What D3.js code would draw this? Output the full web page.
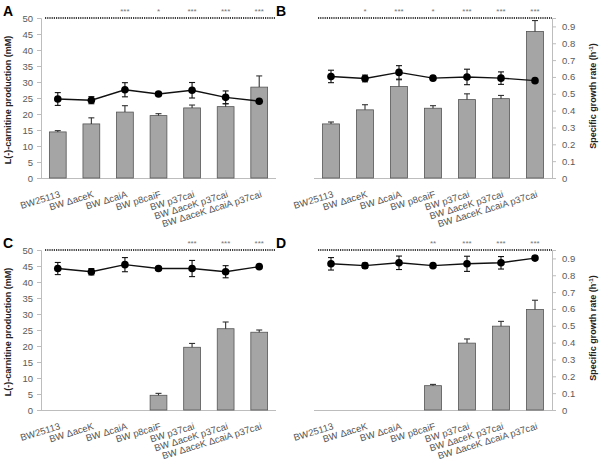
<!DOCTYPE html>
<html><head><meta charset="utf-8">
<script src="https://cdn.jsdelivr.net/npm/d3@7"></script>
<style>body{margin:0;background:#fff}svg{display:block;font-family:"Liberation Sans",Arial,sans-serif}</style>
</head><body>
<script>
const categories = ["BW25113","BW \u0394aceK","BW \u0394caiA","BW p8caiF","BW p37cai","BW \u0394aceK p37cai","BW \u0394aceK \u0394caiA p37cai"];
const carnitineTicks = [0,5,10,15,20,25,30,35,40,45,50];
const growthTicks = [0,0.1,0.2,0.3,0.4,0.5,0.6,0.7,0.8,0.9];

// Panel A
const carnitineA = [14.4,16.9,20.6,19.5,21.9,22.3,28.4];
const carnitineErrA = [0.4,1.9,2.0,0.6,0.9,0.9,3.5];
const growthA = [0.469,0.462,0.524,0.499,0.521,0.479,0.456];
const growthErrA = [0.038,0.021,0.042,0.010,0.046,0.038,0];
const starsA = ["","","***","*","***","***","***"];
// Panel B
const carnitineB = [16.9,21.3,28.6,21.8,24.5,24.8,45.8];
const carnitineErrB = [0.6,1.6,2.1,0.8,1.8,1.0,3.4];
const growthB = [0.603,0.591,0.627,0.593,0.600,0.593,0.578];
const growthErrB = [0.037,0.020,0.040,0.010,0.046,0.037,0];
const starsB = ["","*","***","*","***","***","***"];
// Panel C
const carnitineC = [0,0,0,4.6,19.6,25.4,24.3];
const carnitineErrC = [0,0,0,0.6,1.2,2.1,0.7];
const growthC = [0.840,0.821,0.863,0.840,0.840,0.821,0.851];
const growthErrC = [0.036,0.019,0.042,0.010,0.048,0.036,0];
const starsC = ["","","","","***","***","***"];
// Panel D
const carnitineD = [0,0,0,7.6,20.9,26.2,31.4];
const carnitineErrD = [0,0,0,0.4,1.3,1.5,2.9];
const growthD = [0.868,0.857,0.874,0.857,0.868,0.874,0.902];
const growthErrD = [0.037,0.015,0.040,0.010,0.045,0.037,0];
const starsD = ["","","","**","***","***","***"];

const W = 600, H = 461;
const svg = d3.select("body").append("svg").attr("width", W).attr("height", H);

function panel(o) {
  const g = svg.append("g");
  const x = d3.scaleBand().domain(categories).range([o.x0, o.x1]).paddingInner(0.5).paddingOuter(0.25);
  const yL = d3.scaleLinear().domain([0, 50]).range([o.y1, o.y0]);
  const yR = d3.scaleLinear().domain([0, 0.95]).range([o.y1, o.y0]);
  const axisCol = "#bdbdbd", textCol = "#5a5a5a";

  g.append("text").attr("x", o.x0 - 38).attr("y", o.y0 - 2).attr("font-size", 14).attr("font-weight", "bold").attr("fill", "#000").text(o.letter);

  g.append("line").attr("x1", o.x0 + 4).attr("x2", o.x1).attr("y1", o.y0).attr("y2", o.y0)
    .attr("stroke", "#000").attr("stroke-width", 1.3).attr("stroke-dasharray", "1.2,1");

  g.append("line").attr("x1", o.x0).attr("x2", o.x1).attr("y1", o.y1 + 0.5).attr("y2", o.y1 + 0.5).attr("stroke", axisCol);

  if (o.left) {
    const ax = g.append("g").attr("transform", `translate(${o.x0},0)`)
      .call(d3.axisLeft(yL).tickValues(carnitineTicks).tickSize(4).tickPadding(4).tickFormat(d3.format("d")));
    ax.select(".domain").attr("stroke", axisCol);
    ax.selectAll(".tick line").attr("stroke", axisCol);
    ax.selectAll(".tick text").attr("fill", textCol).attr("font-size", 9.5).attr("font-family", "Liberation Sans, Arial, sans-serif");
    g.append("text").attr("transform", `translate(${o.x0 - 30},${(o.y0 + o.y1) / 2 + 2}) rotate(-90)`)
      .attr("text-anchor", "middle").attr("font-size", 9).attr("font-weight", "bold").attr("fill", "#222")
      .text("L(-)-carnitine production (mM)");
  } else {
    const ax = g.append("g").attr("transform", `translate(${o.x1},0)`)
      .call(d3.axisRight(yR).tickValues(growthTicks).tickSize(4).tickPadding(6).tickFormat(d => d === 0 ? "0" : d3.format(".1f")(d)));
    ax.select(".domain").attr("stroke", axisCol);
    ax.selectAll(".tick line").attr("stroke", axisCol);
    ax.selectAll(".tick text").attr("fill", textCol).attr("font-size", 9.5).attr("font-family", "Liberation Sans, Arial, sans-serif");
    const t = g.append("text").attr("transform", `translate(${o.x1 + 44},${(o.y0 + o.y1) / 2 - 2}) rotate(-90)`)
      .attr("text-anchor", "middle").attr("font-size", 9).attr("font-weight", "bold").attr("fill", "#222");
    t.append("tspan").text("Specific growth rate (h");
    t.append("tspan").attr("font-size", 6).attr("dy", -3).text("-1");
    t.append("tspan").attr("dy", 3).text(")");
  }

  const bw = x.bandwidth();
  const cx = c => x(c) + bw / 2;
  g.selectAll("rect.bar").data(categories).join("rect").attr("class", "bar")
    .attr("x", c => x(c)).attr("width", bw)
    .attr("y", (c, i) => yL(o.bars[i])).attr("height", (c, i) => yL(0) - yL(o.bars[i]))
    .attr("fill", "#a5a5a5").attr("stroke", "#555").attr("stroke-width", 0.8)
    .attr("display", (c, i) => o.bars[i] > 0 ? null : "none");
  categories.forEach((c, i) => {
    if (!(o.barErr[i] > 0)) return;
    const top = yL(o.bars[i] + o.barErr[i]);
    g.append("line").attr("x1", cx(c)).attr("x2", cx(c)).attr("y1", yL(o.bars[i])).attr("y2", top).attr("stroke", "#333").attr("stroke-width", 1.1);
    g.append("line").attr("x1", cx(c) - 3).attr("x2", cx(c) + 3).attr("y1", top).attr("y2", top).attr("stroke", "#333").attr("stroke-width", 1.1);
  });

  g.append("path").datum(categories)
    .attr("d", d3.line().x(c => cx(c)).y((c, i) => yR(o.growth[i])))
    .attr("fill", "none").attr("stroke", "#111").attr("stroke-width", 1.4);
  categories.forEach((c, i) => {
    const e = o.growthErr[i];
    if (!(e > 0)) return;
    const a = yR(o.growth[i] + e), b = yR(o.growth[i] - e);
    g.append("line").attr("x1", cx(c)).attr("x2", cx(c)).attr("y1", a).attr("y2", b).attr("stroke", "#111").attr("stroke-width", 1.1);
    [a, b].forEach(yy => g.append("line").attr("x1", cx(c) - 3).attr("x2", cx(c) + 3).attr("y1", yy).attr("y2", yy).attr("stroke", "#111").attr("stroke-width", 1.1));
  });
  g.selectAll("circle.pt").data(categories).join("circle").attr("class", "pt")
    .attr("cx", c => cx(c)).attr("cy", (c, i) => yR(o.growth[i])).attr("r", 3.8).attr("fill", "#000");

  g.selectAll("text.star").data(categories).join("text").attr("class", "star")
    .attr("x", c => cx(c)).attr("y", o.y0 - 4).attr("text-anchor", "middle")
    .attr("font-size", 8).attr("fill", "#777").text((c, i) => o.stars[i]);

  g.selectAll("text.xl").data(categories).join("text").attr("class", "xl")
    .attr("transform", c => `translate(${cx(c) + 3},${o.y1 + 19}) rotate(-17)`)
    .attr("text-anchor", "end").attr("font-size", 9.5).attr("fill", "#555").text(c => c);
}

panel({letter: "A", left: true, x0: 41, x1: 276, y0: 18, y1: 178, bars: carnitineA, barErr: carnitineErrA, growth: growthA, growthErr: growthErrA, stars: starsA});
panel({letter: "B", left: false, x0: 314, x1: 552, y0: 18, y1: 178, bars: carnitineB, barErr: carnitineErrB, growth: growthB, growthErr: growthErrB, stars: starsB});
panel({letter: "C", left: true, x0: 41, x1: 276, y0: 250, y1: 410, bars: carnitineC, barErr: carnitineErrC, growth: growthC, growthErr: growthErrC, stars: starsC});
panel({letter: "D", left: false, x0: 314, x1: 552, y0: 250, y1: 410, bars: carnitineD, barErr: carnitineErrD, growth: growthD, growthErr: growthErrD, stars: starsD});
</script>
</body></html>
